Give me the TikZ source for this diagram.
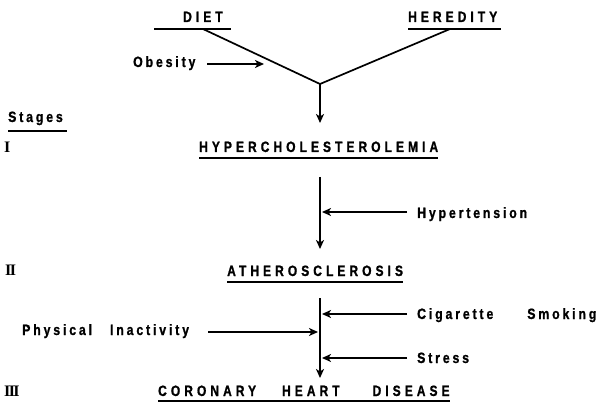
\documentclass[tikz,border=0pt]{standalone}
\usepackage{fontspec}
\setmainfont{Liberation Sans}
\newfontfamily\capfont{Liberation Sans}[FakeStretch=0.8,LetterSpace=27,FakeBold=1]
\newfontfamily\lowfont{Liberation Sans}[FakeStretch=0.82,LetterSpace=19,FakeBold=1]
\newfontfamily\numfont{Liberation Serif}
\usetikzlibrary{arrows.meta}
\begin{document}
\begin{tikzpicture}[x=1pt,y=-1pt,
  captxt/.style={inner sep=0pt, font=\fontsize{15}{17}\selectfont\capfont\bfseries},
  lbl/.style={inner sep=0pt, font=\fontsize{15}{17}\selectfont\lowfont\bfseries},
  num/.style={inner sep=0pt, font=\fontsize{16}{17}\selectfont\numfont\bfseries},
  ln/.style={line width=1.7pt},
  arr/.style={ln,-{Stealth[length=9pt,width=8pt,inset=2.5pt]}}]
\useasboundingbox (0,0) rectangle (602,406);
% top
\node[captxt,anchor=base west] (diet) at (183,22) {DIET};
\node[captxt,anchor=base west] (hered) at (408,22) {HEREDITY};
\coordinate (dietL) at (154,29);
\coordinate (dietR) at (231,29);
\coordinate (dietS) at (203,29);
\coordinate (herL) at (408,29);
\coordinate (herR) at (501,29);
\coordinate (herS) at (450,29);
\coordinate (j) at (320,84);
\draw[ln] (dietL) -- (dietR);
\draw[ln] (herL) -- (herR);
\draw[ln] (dietS) -- (j);
\draw[ln] (herS) -- (j);
\node[lbl,anchor=base west] (obes) at (133,67) {Obesity};
\coordinate (obesS) at (207,64);
\coordinate (obesT) at (264,64);
\draw[arr] (obesS) -- (obesT);
% stages
\node[lbl,anchor=base west] (stages) at (8,122) {Stages};
\draw[ln] (8,131) coordinate (stL) -- (67,131) coordinate (stR);
\node[num,anchor=base west] (s1) at (4,153) {I};
\node[captxt,anchor=base west] (hyper) at (199,152) {HYPERCHOLESTEROLEMIA};
\draw[ln] ([yshift=-6pt]hyper.base west) -- ([yshift=-6pt]hyper.base east);
\coordinate (top1) at (320,123);
\draw[arr] (j) -- (top1);
\coordinate (a1) at (320,177);
\coordinate (b1) at (320,249);
\draw[arr] (a1) -- (b1);
\node[lbl,anchor=base west] (hyp) at (417,218) {Hypertension};
\coordinate (hypS) at (407,212);
\coordinate (hypT) at (322,212);
\draw[arr] (hypS) -- (hypT);
% stage II
\node[num,anchor=base west] (s2) at (5,275) {I\kern-1.6ptI};
\node[captxt,anchor=base west] (ath) at (227,276) {ATHEROSCLEROSIS};
\draw[ln] ([yshift=-6pt]ath.base west) -- ([yshift=-6pt]ath.base east);
\coordinate (a2) at (320,298);
\coordinate (b2) at (320,378);
\draw[arr] (a2) -- (b2);
\node[lbl,anchor=base west] (cig) at (417,319) {Cigarette\hspace{34pt}Smoking};
\coordinate (cigS) at (407,314);
\coordinate (cigT) at (322,314);
\draw[arr] (cigS) -- (cigT);
\node[lbl,anchor=base west] (phys) at (22,335) {Physical\hspace{18pt}Inactivity};
\coordinate (physS) at (208,332);
\coordinate (physT) at (318,332);
\draw[arr] (physS) -- (physT);
\node[lbl,anchor=base west] (stress) at (417,363) {Stress};
\coordinate (strS) at (407,358);
\coordinate (strT) at (322,358);
\draw[arr] (strS) -- (strT);
% stage III
\node[num,anchor=base west] (s3) at (4,396) {I\kern-1.6ptI\kern-1.6ptI};
\node[captxt,anchor=base west] (chd) at (158,396) {CORONARY\hspace{26pt}HEART\hspace{33pt}DISEASE};
\draw[ln] ([yshift=-5pt]chd.base west) -- ([yshift=-5pt]chd.base east);
\end{tikzpicture}
\end{document}
